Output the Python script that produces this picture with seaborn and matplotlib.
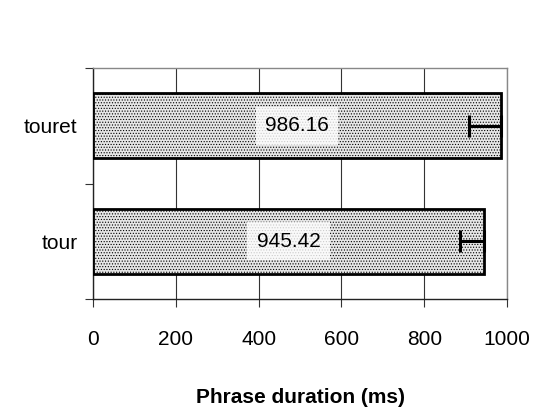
import matplotlib
matplotlib.use("Agg")
import matplotlib.pyplot as plt
import seaborn as sns
import pandas as pd
import numpy as np

categories = ["touret", "tour"]
durations = [986.16, 945.42]
err_lower = [77, 59]
value_labels = ["986.16", "945.42"]
xticks = [0, 200, 400, 600, 800, 1000]

sns.set_theme(style="white")
plt.rcParams['font.family'] = ['Liberation Sans Narrow', 'Liberation Sans', 'DejaVu Sans']
plt.rcParams['hatch.color'] = '#a8a8a8'
plt.rcParams['hatch.linewidth'] = 0.5
plt.rcParams['text.color'] = 'black'
plt.rcParams['axes.labelcolor'] = 'black'
plt.rcParams['xtick.color'] = 'black'
plt.rcParams['ytick.color'] = 'black'

df = pd.DataFrame({"cat": categories, "dur": durations})

fig = plt.figure(figsize=(5.41, 4.17), dpi=100)
ax = fig.add_axes([93/541, 1-299/417, (507-93)/541, (299-68)/417])

sns.barplot(data=df, x="dur", y="cat", orient="h", ax=ax, color="#e4e4e4",
            width=0.56, edgecolor="black", linewidth=2.0, saturation=1, zorder=3)
for p in ax.patches:
    p.set_hatch('......')
    p.set_facecolor('#e6e6e6')

ys = np.arange(len(categories))
ax.errorbar(durations, ys, xerr=[err_lower, [0]*len(durations)], fmt='none',
            ecolor='black', elinewidth=2.2, capsize=8, capthick=2.2, zorder=4)

for y, v, lab in zip(ys, durations, value_labels):
    ax.text(v/2, y, lab, ha='center', va='center', fontsize=15, color='black', zorder=5,
            bbox=dict(boxstyle='square,pad=0.45', facecolor='white', edgecolor='none', alpha=0.8))

ax.set_xlim(0, 1000)
ax.set_ylim(1.5, -0.5)
ax.set_xticks(xticks)
ax.set_xticklabels([str(t) for t in xticks])
ax.xaxis.grid(True, color='#333333', linewidth=0.8, zorder=0)
ax.set_axisbelow(True)

ax.tick_params(axis='x', which='major', direction='out', length=6, width=0.8,
               color='#333333', labelcolor='black', labelsize=15, pad=16.5, bottom=True)
ax.tick_params(axis='y', which='major', length=0, labelsize=15, labelcolor='black', pad=11)
ax.set_yticks([-0.5, 0.5, 1.5], minor=True)
ax.tick_params(axis='y', which='minor', direction='out', length=6, width=0.8,
               color='#333333', left=True)

ax.set_xlabel("Phrase duration (ms)", fontsize=15, fontweight='bold', color='black', labelpad=28)
ax.set_ylabel("")

for s in ['left', 'bottom']:
    ax.spines[s].set_color('#222222')
    ax.spines[s].set_linewidth(1.0)
for s in ['top', 'right']:
    ax.spines[s].set_color('#888888')
    ax.spines[s].set_linewidth(1.0)
    ax.spines[s].set_linestyle((0, (1, 1)))

fig.savefig("out.png", dpi=100)
